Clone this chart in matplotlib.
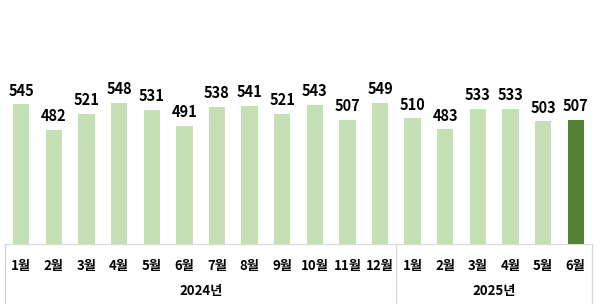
import numpy as np
import matplotlib.pyplot as plt

plt.rcParams['font.family'] = ['Noto Sans CJK KR', 'DejaVu Sans']

months = ['1월', '2월', '3월', '4월', '5월', '6월', '7월', '8월', '9월', '10월', '11월', '12월',
          '1월', '2월', '3월', '4월', '5월', '6월']
values = [545, 482, 521, 548, 531, 491, 538, 541, 521, 543, 507, 549,
          510, 483, 533, 533, 503, 507]
years = ['2024년', '2025년']
year_counts = [12, 6]

light = '#c5e0b4'
dark = '#548235'
grid_c = '#d9d9d9'

fig = plt.figure(figsize=(6, 3.04), dpi=100)
# axes spans from x=5px to 592px, baseline at y=244px
ax = fig.add_axes([5 / 600, 60 / 304, 587 / 600, 244 / 304])

x = np.arange(len(values))
colors = [light] * (len(values) - 1) + [dark]
bars = ax.bar(x, values, width=0.5, color=colors)

for xi, v in zip(x, values):
    ax.annotate(str(v), (xi, v), xytext=(0, 4), textcoords='offset points',
                ha='center', va='bottom', fontsize=10.5, fontweight='bold', color='black')

ax.set_xlim(-0.5, len(values) - 0.5)
ax.set_ylim(200, 802)
ax.set_yticks([])
ax.set_xticks(x)
ax.set_xticklabels(months, fontsize=9.5, fontweight='bold')
ax.tick_params(axis='x', length=0, pad=10.5)
for s in ['top', 'right', 'left']:
    ax.spines[s].set_visible(False)
ax.spines['bottom'].set_color(grid_c)

# group separators and year labels
tr = ax.get_xaxis_transform()
bottom = -60 / 244
edges = np.concatenate([[0], np.cumsum(year_counts)]) - 0.5
for e in edges:
    ax.plot([e, e], [0, bottom], transform=tr, color=grid_c, lw=1, clip_on=False)
for i, yname in enumerate(years):
    mid = (edges[i] + edges[i + 1]) / 2
    ax.text(mid, -47 / 244, yname, transform=tr, ha='center', va='center',
            fontsize=9.5, fontweight='bold')

fig.savefig('out.png', dpi=100)
